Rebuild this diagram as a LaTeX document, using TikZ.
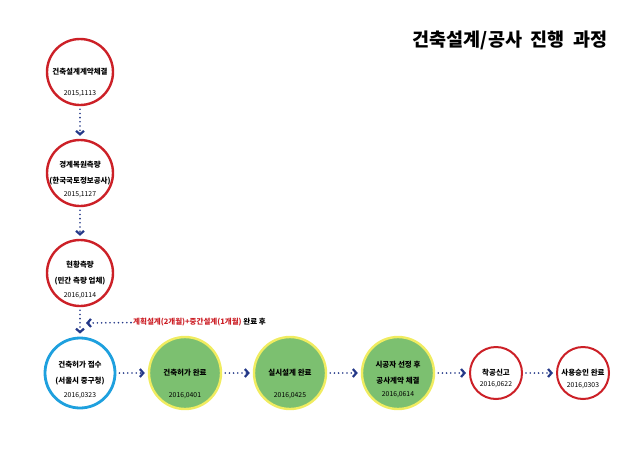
\documentclass[tikz,border=0pt]{standalone}
\usepackage{fontspec}
\setmainfont{Noto Sans CJK KR}
\usepackage{xcolor}
\usepackage{tikz}
\usetikzlibrary{arrows.meta,positioning,calc}

\definecolor{stepred}{RGB}{204,32,39}
\definecolor{stepblue}{RGB}{30,160,222}
\definecolor{stepgreen}{RGB}{124,192,112}
\definecolor{stepyellow}{RGB}{240,236,96}
\definecolor{navy}{RGB}{36,56,136}

\begin{document}
\begin{tikzpicture}[x=1pt, y=-1pt,
node distance=100pt, on grid,
redc/.style={circle, draw=stepred, line width=2.4pt, fill=white, minimum size=66pt, inner sep=0pt, align=center, font=\bfseries\fontsize{7.5}{9}\selectfont},
bluec/.style={redc, draw=stepblue, line width=2.8pt, minimum size=70pt},
greenc/.style={redc, draw=stepyellow, fill=stepgreen, minimum size=72pt},
smallc/.style={redc, line width=2pt, minimum size=52pt},
date/.style={font=\fontsize{6.8}{8}\selectfont},
flow/.style={navy, line width=1.8pt, line cap=round, dash pattern=on 0pt off 4.2pt, shorten <=3pt, shorten >=3pt, -{Straight Barb[length=3.5pt,width=8pt,line width=2.2pt,line cap=butt]}}
]
\useasboundingbox (0,0) rectangle (640,453);
\node[font=\bfseries\fontsize{18.5}{21}\selectfont] (title) at (510,40) {건축설계/공사 \ 진행 \ 과정};

% left column
\node[redc, label={[date, yshift=-22pt]center:2015,1113}] (c1) at (80,72) {건축설계계약체결};
\node[redc, below=101pt of c1, label={[date, yshift=-22pt]center:2015,1127}] (c2) {경계복원측량\\[7pt](한국국토정보공사)};
\node[redc, below=100pt of c2, label={[date, yshift=-23pt]center:2016,0114}] (c3) {현황측량\\[7pt](민간 측량 업체)};
\node[bluec, below=100pt of c3, label={[date, yshift=-23pt]center:2016,0323}] (c4) {건축허가 접수\\[7pt](서울시 중구청)};

% bottom row
\node[greenc, right=105pt of c4, label={[date, yshift=-23pt]center:2016,0401}] (g1) {건축허가 완료};
\node[greenc, right=105pt of g1, label={[date, yshift=-23pt]center:2016,0425}] (g2) {실시설계 완료};
\node[greenc, right=108pt of g2, label={[date, yshift=-22pt]center:2016,0614}] (g3) {시공자 선정 후\\[7pt]공사계약 체결};
\node[smallc, right=98pt of g3, label={[date, yshift=-12pt]center:2016,0622}] (s1) {착공신고};
\node[smallc, right=87pt of s1, label={[date, yshift=-13pt]center:2016,0303}] (s2) {사용승인 완료};

\draw[flow] (c1) -- (c2);
\draw[flow] (c2) -- (c3);
\draw[flow] (c3) -- (c4);
\draw[flow] (c4) -- (g1);
\draw[flow] (g1) -- (g2);
\draw[flow] (g2) -- (g3);
\draw[flow] (g3) -- (s1);
\draw[flow] (s1) -- (s2);

% note on the design stages
\coordinate (gap) at ([xshift=6pt]$(c3)!0.5!(c4)$);
\node[anchor=west, inner sep=1pt, font=\bfseries\fontsize{7.5}{9}\selectfont] (note) at (132,322) {\textcolor{stepred}{계획설계(2개월)+중간설계(1개월)} 완료 후};
\draw[flow, shorten <=1pt, shorten >=0pt] (note) -- (gap);
\end{tikzpicture}
\end{document}
